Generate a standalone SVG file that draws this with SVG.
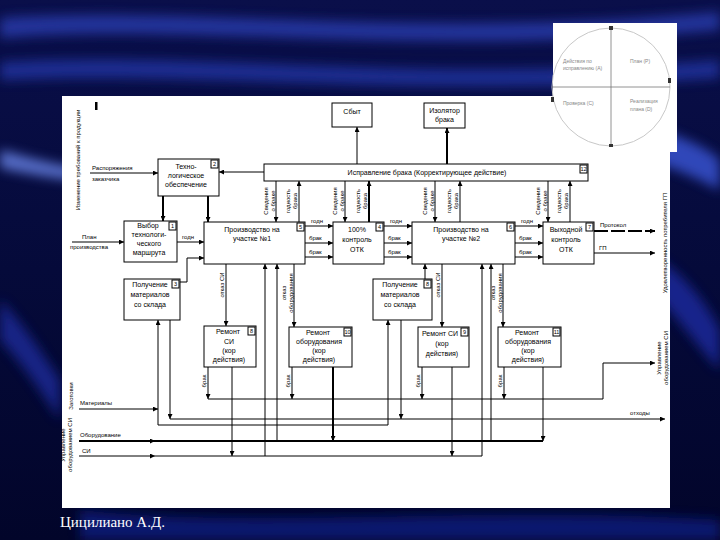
<svg xmlns="http://www.w3.org/2000/svg" width="720" height="540" viewBox="0 0 720 540">
<defs>
<linearGradient id="bg" x1="0" y1="0" x2="0" y2="1">
<stop offset="0" stop-color="#0a0f4a"/>
<stop offset="0.5" stop-color="#050a3a"/>
<stop offset="1" stop-color="#02052a"/>
</linearGradient>
<filter id="bl" x="-10%" y="-50%" width="120%" height="200%"><feGaussianBlur stdDeviation="6"/></filter>
<marker id="a" viewBox="0 0 6 6" refX="6" refY="3" markerWidth="5" markerHeight="5" orient="auto" markerUnits="userSpaceOnUse"><path d="M0,0L6,3L0,6z" fill="#000"/></marker>
<style>
.box{fill:#fff;stroke:#000;stroke-width:1}
.tag{fill:#fff;stroke:#000;stroke-width:1}
.t{font-family:"Liberation Sans",Arial,sans-serif;font-size:7px;fill:#000;text-anchor:middle}
.n{font-family:"Liberation Sans",Arial,sans-serif;font-size:5.5px;fill:#000;text-anchor:middle}
.l{font-family:"Liberation Sans",Arial,sans-serif;font-size:6px;fill:#000}
.lm{font-family:"Liberation Sans",Arial,sans-serif;font-size:6px;fill:#000;text-anchor:middle}
.c path{stroke:#000;fill:none;stroke-width:1}
.c path.k{stroke-width:2}
.p{font-family:"Liberation Sans",Arial,sans-serif;font-size:5px;fill:#888}
</style>
</defs>
<rect width="720" height="540" fill="url(#bg)"/>
<g filter="url(#bl)" opacity="0.8">
<path d="M0,18 C180,5 420,40 720,12 L720,30 C420,58 180,22 0,38 Z" fill="#2a3cb0"/>
<path d="M0,62 C200,50 420,85 720,60 L720,78 C420,100 200,70 0,80 Z" fill="#2436a4"/>
<path d="M0,150 C40,160 70,170 120,172 L120,182 C70,182 40,176 0,168 Z" fill="#6a86ea"/>
<path d="M660,130 C690,140 710,150 720,160 L720,190 C700,180 680,170 660,165 Z" fill="#3a56d8"/>
<path d="M660,260 C690,280 710,310 720,330 L720,370 C700,350 680,320 660,300 Z" fill="#1c2aa0"/>
<path d="M0,300 C20,320 40,350 60,380 L60,420 C40,390 20,360 0,340 Z" fill="#1a2a9a"/>
<path d="M80,510 C250,530 480,505 720,520 L720,540 L80,540 Z" fill="#101c80"/>
</g>
<rect x="553" y="23" width="124" height="129" fill="#fff"/>
<rect x="62" y="96" width="608" height="412" fill="#fff"/>
<g id="pdca">
<circle cx="611" cy="87" r="59" fill="none" stroke="#c8c8c8" stroke-width="1"/>
<path d="M611,28V146M552,87H670" stroke="#777" stroke-width="0.8" fill="none"/>
<path d="M609,26h4v4h-4z M668,78h3v5h-3z M551,97h3v5h-3z M609,144h4v3h-4z" fill="#333"/>
<text class="p" x="563" y="63">Действия по</text>
<text class="p" x="563" y="70">исправлению (A)</text>
<text class="p" x="630" y="63">План (P)</text>
<text class="p" x="563" y="105">Проверка (C)</text>
<text class="p" x="630" y="103">Реализация</text>
<text class="p" x="630" y="111">плана (D)</text>
</g>
<rect x="95" y="102" width="2.5" height="8" fill="#000"/>
<g id="sbyt"><rect class="box" x="332" y="103" width="40" height="24"/><text class="t" x="352" y="114">Сбыт</text></g>
<g id="izol"><rect class="box" x="424" y="103" width="41" height="25"/><text class="t" x="444.5" y="113">Изолятор</text><text class="t" x="444.5" y="122">брака</text></g>
<g id="ispr"><rect class="box" x="264" y="164" width="324" height="17"/><rect class="tag" x="580" y="165" width="7" height="8"/><text class="n" x="583.5" y="171">12</text><text class="t" x="427" y="175">Исправление брака (Корректирующее действие)</text></g>
<g id="tech"><rect class="box" x="158" y="159" width="61" height="37"/><rect class="tag" x="211" y="160" width="7" height="8"/><text class="n" x="214.5" y="166">2</text><text class="t" x="186" y="169">Техно-</text><text class="t" x="186" y="178">логическое</text><text class="t" x="186" y="187">обеспечение</text></g>
<g id="vybor"><rect class="box" x="124" y="221" width="53" height="41"/><rect class="tag" x="169" y="222" width="7" height="8"/><text class="n" x="172.5" y="228">1</text><text class="t" x="148" y="228">Выбор</text><text class="t" x="149" y="237">технологи-</text><text class="t" x="149" y="246">ческого</text><text class="t" x="149" y="255">маршрута</text></g>
<g id="prod1"><rect class="box" x="204" y="222" width="101" height="42"/><rect class="tag" x="297" y="223" width="7" height="8"/><text class="n" x="300.5" y="229">5</text><text class="t" x="252" y="232">Производство на</text><text class="t" x="252" y="241">участке №1</text></g>
<g id="otk100"><rect class="box" x="333" y="222" width="51" height="42"/><rect class="tag" x="376" y="223" width="7" height="8"/><text class="n" x="379.5" y="229">4</text><text class="t" x="357" y="232">100%</text><text class="t" x="357" y="242">контроль</text><text class="t" x="357" y="252">ОТК</text></g>
<g id="prod2"><rect class="box" x="412" y="222" width="103" height="42"/><rect class="tag" x="507" y="223" width="7" height="8"/><text class="n" x="510.5" y="229">6</text><text class="t" x="461" y="232">Производство на</text><text class="t" x="461" y="241">участке №2</text></g>
<g id="vyh"><rect class="box" x="543" y="222" width="51" height="42"/><rect class="tag" x="586" y="223" width="7" height="8"/><text class="n" x="589.5" y="229">7</text><text class="t" x="566" y="232">Выходной</text><text class="t" x="566" y="242">контроль</text><text class="t" x="566" y="252">ОТК</text></g>
<g id="pol1"><rect class="box" x="124" y="279" width="56" height="41"/><rect class="tag" x="172" y="280" width="7" height="8"/><text class="n" x="175.5" y="286">3</text><text class="t" x="150" y="287">Получение</text><text class="t" x="150" y="297">материалов</text><text class="t" x="150" y="307">со склада</text></g>
<g id="pol2"><rect class="box" x="373" y="279" width="59" height="41"/><rect class="tag" x="424" y="280" width="7" height="8"/><text class="n" x="427.5" y="286">8</text><text class="t" x="400" y="287">Получение</text><text class="t" x="400" y="297">материалов</text><text class="t" x="400" y="307">со склада</text></g>
<g id="remsi1"><rect class="box" x="204" y="326" width="52" height="41"/><rect class="tag" x="248" y="327" width="7" height="8"/><text class="n" x="251.5" y="333">8</text><text class="t" x="228" y="334">Ремонт</text><text class="t" x="229" y="344">СИ</text><text class="t" x="229" y="353">(кор</text><text class="t" x="229" y="362">действия)</text></g>
<g id="remob1"><rect class="box" x="289" y="327" width="63" height="40"/><rect class="tag" x="344" y="328" width="7" height="8"/><text class="n" x="347.5" y="334">10</text><text class="t" x="318" y="335">Ремонт</text><text class="t" x="319" y="344">оборудования</text><text class="t" x="319" y="353">(кор</text><text class="t" x="319" y="362">действия)</text></g>
<g id="remsi2"><rect class="box" x="418" y="327" width="51" height="40"/><rect class="tag" x="461" y="328" width="7" height="8"/><text class="n" x="464.5" y="334">9</text><text class="t" x="440" y="336">Ремонт СИ</text><text class="t" x="442" y="346">(кор</text><text class="t" x="442" y="356">действия)</text></g>
<g id="remob2"><rect class="box" x="498" y="327" width="63" height="40"/><rect class="tag" x="553" y="328" width="7" height="8"/><text class="n" x="556.5" y="334">11</text><text class="t" x="527" y="335">Ремонт</text><text class="t" x="528" y="344">оборудования</text><text class="t" x="528" y="353">(кор</text><text class="t" x="528" y="362">действия)</text></g>
<g id="connectors" class="c">
<path d="M357,164V127" marker-end="url(#a)"/>
<path class="k" d="M447,164V128" marker-end="url(#a)"/>
<path d="M264,172H219" marker-end="url(#a)"/>
<path class="k" d="M163,196V221" marker-end="url(#a)"/>
<path class="k" d="M208,196V222" marker-end="url(#a)"/>
<path d="M90,173H158" marker-end="url(#a)"/>
<path d="M72,242H124" marker-end="url(#a)"/>
<path d="M177,242H204" marker-end="url(#a)"/>
<path d="M180,282H187V258H204" marker-end="url(#a)"/>
<path d="M305,226H333" marker-end="url(#a)"/>
<path d="M305,243H333" marker-end="url(#a)"/>
<path d="M305,257H333" marker-end="url(#a)"/>
<path d="M384,226H412" marker-end="url(#a)"/>
<path d="M384,243H412" marker-end="url(#a)"/>
<path d="M384,257H412" marker-end="url(#a)"/>
<path d="M515,226H543" marker-end="url(#a)"/>
<path d="M515,243H543" marker-end="url(#a)"/>
<path d="M515,257H543" marker-end="url(#a)"/>
<path class="k" d="M594,231H655" marker-end="url(#a)" stroke-dasharray="14,3"/>
<path d="M594,253H655" marker-end="url(#a)"/>
<path d="M276,181V222" marker-end="url(#a)"/>
<path d="M299,222V181" marker-end="url(#a)"/>
<path d="M345,181V222" marker-end="url(#a)"/>
<path class="k" d="M369,222V181" marker-end="url(#a)"/>
<path d="M435,181V222" marker-end="url(#a)"/>
<path d="M460,222V181" marker-end="url(#a)"/>
<path d="M548,181V222" marker-end="url(#a)"/>
<path d="M570,222V181" marker-end="url(#a)"/>
<path d="M226,264V326" marker-end="url(#a)"/>
<path d="M294,264V327" marker-end="url(#a)"/>
<path d="M442,264V327" marker-end="url(#a)"/>
<path d="M503,264V327" marker-end="url(#a)"/>
<path d="M425,279V264" marker-end="url(#a)"/>
<path d="M208,367V399" marker-end="url(#a)"/>
<path d="M292,367V399" marker-end="url(#a)"/>
<path d="M422,367V399" marker-end="url(#a)"/>
<path d="M504,367V399" marker-end="url(#a)"/>
<path d="M208,399H603V363H655" marker-end="url(#a)"/>
<path d="M79,409H158" marker-end="url(#a)"/>
<path d="M158,425V320" marker-end="url(#a)"/>
<path d="M158,425H388V320" marker-end="url(#a)"/>
<path d="M170,320V419" marker-end="url(#a)"/>
<path d="M401,320V419" marker-end="url(#a)"/>
<path d="M170,419H665" marker-end="url(#a)"/>
<path class="k" d="M79,441H155" marker-end="url(#a)"/>
<path class="k" d="M155,441H543"/>
<path d="M277,441V264" marker-end="url(#a)"/>
<path d="M491,441V264" marker-end="url(#a)"/>
<path class="k" d="M333,367V441" marker-end="url(#a)"/>
<path d="M543,367V441" marker-end="url(#a)"/>
<path d="M79,456H155" marker-end="url(#a)"/>
<path d="M155,456H482"/>
<path d="M265,456V264" marker-end="url(#a)"/>
<path d="M482,456V264" marker-end="url(#a)"/>
<path d="M232,367V456" marker-end="url(#a)"/>
<path d="M452,367V456" marker-end="url(#a)"/>
</g>
<g id="labels">
<text class="l" x="92" y="170">Распоряжения</text>
<text class="l" x="92" y="181">заказчика</text>
<text class="l" x="82" y="239">План</text>
<text class="l" x="70" y="249">производства</text>
<text class="l" x="182" y="239">годн</text>
<text class="l" x="311" y="223">годн</text>
<text class="l" x="309" y="240">брак</text>
<text class="l" x="309" y="254">брак</text>
<text class="l" x="390" y="223">годн</text>
<text class="l" x="388" y="240">брак</text>
<text class="l" x="388" y="254">брак</text>
<text class="l" x="521" y="223">годн</text>
<text class="l" x="519" y="240">брак</text>
<text class="l" x="519" y="254">брак</text>
<text class="l" x="600" y="227">Протокол</text>
<text class="l" x="599" y="250">ГП</text>
<text class="l" x="80" y="405">Материалы</text>
<text class="l" x="80" y="437">Оборудование</text>
<text class="l" x="82" y="453">СИ</text>
<text class="l" x="630" y="415">отходы</text>
<text class="lm" transform="translate(80,160) rotate(-90)">Изменение требований к продукции</text>
<text class="lm" transform="translate(73,396) rotate(-90)">Заготовки</text>
<text class="lm" transform="translate(65,445) rotate(-90)">Управление<tspan x="0" dy="7">оборудованием СИ</tspan></text>
<text class="lm" transform="translate(667,243) rotate(-90)">Удовлетворенность потребителя ГП</text>
<text class="lm" transform="translate(661,358) rotate(-90)">Управление<tspan x="0" dy="7">оборудованием СИ</tspan></text>
<text class="lm" transform="translate(268,201) rotate(-90)">Сведения<tspan x="0" dy="6.5">о браке</tspan></text>
<text class="lm" transform="translate(290,201) rotate(-90)">годность<tspan x="0" dy="6.5">брака</tspan></text>
<text class="lm" transform="translate(337,201) rotate(-90)">Сведения<tspan x="0" dy="6.5">о браке</tspan></text>
<text class="lm" transform="translate(360,201) rotate(-90)">годность<tspan x="0" dy="6.5">брака</tspan></text>
<text class="lm" transform="translate(427,201) rotate(-90)">Сведения<tspan x="0" dy="6.5">о браке</tspan></text>
<text class="lm" transform="translate(451,201) rotate(-90)">годность<tspan x="0" dy="6.5">брака</tspan></text>
<text class="lm" transform="translate(540,201) rotate(-90)">Сведения<tspan x="0" dy="6.5">о браке</tspan></text>
<text class="lm" transform="translate(561,201) rotate(-90)">годность<tspan x="0" dy="6.5">брака</tspan></text>
<text class="lm" transform="translate(224,285) rotate(-90)">отказ СИ</text>
<text class="lm" transform="translate(286,293) rotate(-90)">отказ<tspan x="0" dy="6.5">оборудования</tspan></text>
<text class="lm" transform="translate(440,285) rotate(-90)">отказ СИ</text>
<text class="lm" transform="translate(495,293) rotate(-90)">отказ<tspan x="0" dy="6.5">оборудования</tspan></text>
<text class="lm" transform="translate(206,381) rotate(-90)">брак</text>
<text class="lm" transform="translate(290,381) rotate(-90)">брак</text>
<text class="lm" transform="translate(420,381) rotate(-90)">брак</text>
<text class="lm" transform="translate(502,381) rotate(-90)">брак</text>
</g>
<text x="60" y="527" font-family="'Liberation Serif','Times New Roman',serif" font-size="15" fill="#fff">Цицилиано А.Д.</text>
</svg>
